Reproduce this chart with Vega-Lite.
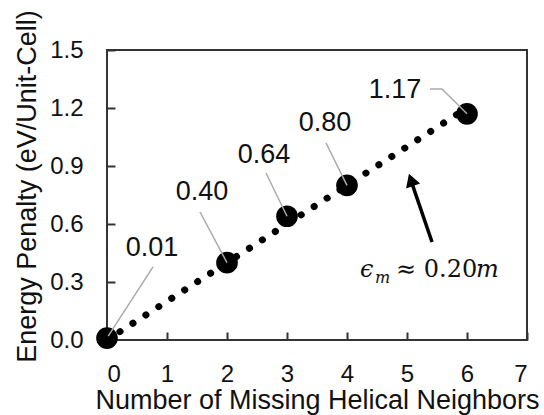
{
  "$schema": "https://vega.github.io/schema/vega-lite/v6.json",
  "width": 420,
  "height": 290,
  "autosize": {"type": "none"},
  "padding": {"left": 107, "top": 50, "right": 17, "bottom": 75},
  "background": "white",
  "config": {
    "view": {"stroke": "#333", "strokeWidth": 2},
    "font": "Liberation Sans",
    "axis": {
      "domain": false,
      "grid": false,
      "tickSize": -8,
      "tickWidth": 2,
      "tickColor": "#333",
      "labelFont": "Liberation Sans",
      "labelFontSize": 24,
      "labelColor": "#111111",
      "titleFont": "Liberation Sans",
      "titleFontSize": 27,
      "titleFontWeight": "normal",
      "titleColor": "#111111"
    }
  },
  "datasets": {
    "points": [
      {"x": 0, "y": 0.01},
      {"x": 2, "y": 0.40},
      {"x": 3, "y": 0.64},
      {"x": 4, "y": 0.80},
      {"x": 6, "y": 1.17}
    ],
    "trend": [
      {"x": 0, "y": 0},
      {"x": 6, "y": 1.2}
    ],
    "leaders": [
      {"g": "a", "o": 0, "x": 0.767, "y": 0.378},
      {"g": "a", "o": 1, "x": 0.02, "y": 0.02},
      {"g": "b", "o": 0, "x": 1.55, "y": 0.662},
      {"g": "b", "o": 1, "x": 2, "y": 0.40},
      {"g": "c", "o": 0, "x": 2.65, "y": 0.864},
      {"g": "c", "o": 1, "x": 3, "y": 0.64},
      {"g": "d", "o": 0, "x": 3.65, "y": 1.019},
      {"g": "d", "o": 1, "x": 4, "y": 0.80},
      {"g": "e", "o": 0, "x": 5.383, "y": 1.298},
      {"g": "e", "o": 1, "x": 5.583, "y": 1.298},
      {"g": "e", "o": 2, "x": 6, "y": 1.17}
    ],
    "labels": [
      {"x": 0.75, "y": 0.476, "t": "0.01"},
      {"x": 1.583, "y": 0.766, "t": "0.40"},
      {"x": 2.617, "y": 0.957, "t": "0.64"},
      {"x": 3.633, "y": 1.122, "t": "0.80"},
      {"x": 4.8, "y": 1.293, "t": "1.17"}
    ],
    "arrow": [
      {"x": 5.417, "y": 0.507, "x2": 5.05, "y2": 0.84}
    ],
    "head": [
      {"x": 5.067, "y": 0.828}
    ]
  },
  "encoding": {
    "x": {
      "field": "x",
      "type": "quantitative",
      "scale": {"domain": [0, 7], "nice": false, "zero": false},
      "axis": {
        "values": [0, 1, 2, 3, 4, 5, 6, 7],
        "format": "d",
        "labelPadding": 42,
        "labelBaseline": "middle",
        "title": "Number of Missing Helical Neighbors",
        "titleY": 60,
        "titleBaseline": "middle"
      }
    },
    "y": {
      "field": "y",
      "type": "quantitative",
      "scale": {"domain": [0, 1.5], "nice": false, "zero": false},
      "axis": {
        "values": [0, 0.3, 0.6, 0.9, 1.2, 1.5],
        "format": ".1f",
        "labelPadding": 32,
        "title": "Energy Penalty (eV/Unit-Cell)",
        "titleX": -80,
        "titleY": 136,
        "titleAlign": "center",
        "titleBaseline": "middle",
        "titleAngle": -90
      }
    }
  },
  "layer": [
    {
      "data": {"name": "trend"},
      "mark": {"type": "line", "color": "black", "strokeWidth": 7, "strokeCap": "round", "strokeDash": [0.1, 15.3]},
      "encoding": {}
    },
    {
      "data": {"name": "points"},
      "mark": {"type": "circle", "color": "black", "opacity": 1, "size": 470}
    },
    {
      "data": {"name": "leaders"},
      "mark": {"type": "line", "color": "#aaaaaa", "strokeWidth": 1.5},
      "encoding": {
        "detail": {"field": "g"},
        "order": {"field": "o", "type": "quantitative"}
      }
    },
    {
      "data": {"name": "labels"},
      "mark": {"type": "text", "fontSize": 27, "color": "#111111", "align": "center", "baseline": "middle", "font": "Liberation Sans"},
      "encoding": {"text": {"field": "t"}}
    },
    {
      "data": {"name": "arrow"},
      "mark": {"type": "rule", "color": "black", "strokeWidth": 3.5},
      "encoding": {
        "x2": {"field": "x2"},
        "y2": {"field": "y2"}
      }
    },
    {
      "data": {"name": "head"},
      "mark": {"type": "point", "shape": "triangle-up", "filled": true, "color": "black", "opacity": 1, "size": 220, "angle": -19},
      "encoding": {}
    },
    {
      "data": {"values": [{"x": 4.217, "y": 0.326}]},
      "mark": {"type": "text", "text": "ϵ", "font": "DejaVu Serif", "fontStyle": "italic", "fontSize": 24, "align": "left", "baseline": "alphabetic", "color": "#111111"},
      "encoding": {}
    },
    {
      "data": {"values": [{"x": 4.467, "y": 0.295}]},
      "mark": {"type": "text", "text": "m", "font": "DejaVu Serif", "fontStyle": "italic", "fontSize": 16, "align": "left", "baseline": "alphabetic", "color": "#111111"},
      "encoding": {}
    },
    {
      "data": {"values": [{"x": 4.817, "y": 0.326}]},
      "mark": {"type": "text", "text": "≈ 0.20", "font": "DejaVu Serif", "fontSize": 24, "align": "left", "baseline": "alphabetic", "color": "#111111"},
      "encoding": {}
    },
    {
      "data": {"values": [{"x": 6.15, "y": 0.326}]},
      "mark": {"type": "text", "text": "m", "font": "DejaVu Serif", "fontStyle": "italic", "fontSize": 24, "align": "left", "baseline": "alphabetic", "color": "#111111"},
      "encoding": {}
    }
  ]
}
